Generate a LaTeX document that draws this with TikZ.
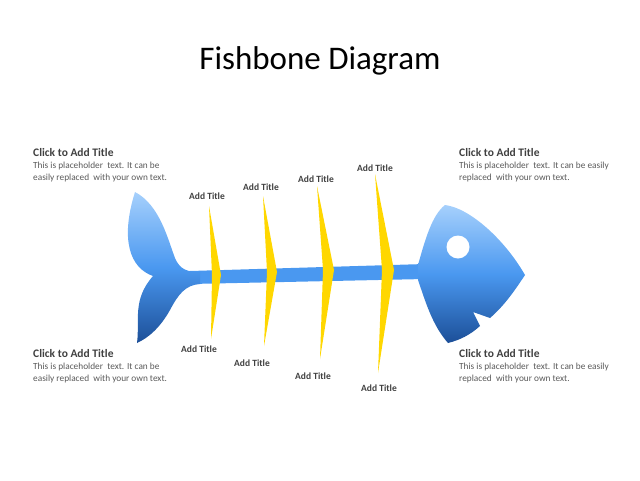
\documentclass[tikz,border=0pt]{standalone}
\usepackage{fontspec}
\setmainfont{Carlito}
\definecolor{ttl}{HTML}{404040}
\definecolor{bodyc}{HTML}{595959}
\definecolor{bone}{HTML}{FFD700}
\definecolor{fishlt}{HTML}{A6D0FC}
\definecolor{fishmd}{HTML}{4A98F0}
\definecolor{fishdk}{HTML}{1C4F98}
\begin{document}
\begin{tikzpicture}[x=1pt,y=-1pt,
  blk/.style={anchor=north west,align=left,inner sep=0pt,text=bodyc,font=\fontsize{9.3}{12}\selectfont},
  lbl/.style={font=\fontsize{9.5}{11}\selectfont\bfseries,text=ttl,inner sep=0pt},
  bonestyle/.style={fill=bone,draw=none}]
\useasboundingbox (0,0) rectangle (640,480);
\node[inner sep=0pt,font=\fontsize{33}{36}\selectfont] (title) at (320,61) {Fishbone Diagram};
% text blocks
\node[blk] (tl) at (33,148) {{\fontsize{11.5}{13}\selectfont\bfseries\color{ttl}Click to Add Title}\\This is placeholder\ \ text. It can be\\easily replaced\ \ with your own text.};
\node[blk] (tr) at (459,148) {{\fontsize{11.5}{13}\selectfont\bfseries\color{ttl}Click to Add Title}\\This is placeholder\ \ text. It can be easily\\replaced\ \ with your own text.};
\node[blk] (bl) at (33,349) {{\fontsize{11.5}{13}\selectfont\bfseries\color{ttl}Click to Add Title}\\This is placeholder\ \ text. It can be\\easily replaced\ \ with your own text.};
\node[blk] (br) at (459,349) {{\fontsize{11.5}{13}\selectfont\bfseries\color{ttl}Click to Add Title}\\This is placeholder\ \ text. It can be easily\\replaced\ \ with your own text.};
% spine
\fill[fishmd] (190,271) -- (425,264) -- (425,279) -- (190,284) -- cycle;
% tail
\shade[top color=fishlt,bottom color=fishdk,middle color=fishmd]
  (135,192) .. controls (160,205) and (168,240) .. (175,258)
  .. controls (180,270) and (188,272) .. (200,272)
  -- (200,284)
  .. controls (185,285) and (178,295) .. (170,310)
  .. controls (160,328) and (148,338) .. (137,343)
  .. controls (140,320) and (132,300) .. (153,276)
  .. controls (130,268) and (120,240) .. (135,192) -- cycle;
% head
\shade[top color=fishlt,bottom color=fishdk,middle color=fishmd]
  (418,265) .. controls (425,240) and (432,215) .. (445,205)
  .. controls (470,208) and (505,240) .. (525,275)
  .. controls (515,290) and (505,305) .. (490,318)
  -- (473,312) -- (480,326)
  .. controls (470,335) and (460,340) .. (448,343)
  .. controls (432,325) and (425,300) .. (418,280) -- cycle;
\fill[white] (458,247) circle[radius=11.5];
% bones
\fill[bonestyle] (209,206) -- (221,275) -- (211,339) -- (212,275) -- cycle;
\fill[bonestyle] (263,196) -- (277,272) -- (264,346) -- (267,272) -- cycle;
\fill[bonestyle] (317,186) -- (334,270) -- (320,359) -- (323,270) -- cycle;
\fill[bonestyle] (375,174) -- (394,270) -- (378,373) -- (382,270) -- cycle;
% labels
\node[lbl] (t1) at (207,196) {Add Title};
\node[lbl] (t2) at (261,187) {Add Title};
\node[lbl] (t3) at (316,179) {Add Title};
\node[lbl] (t4) at (375,168) {Add Title};
\node[lbl] (b1) at (199,349) {Add Title};
\node[lbl] (b2) at (252,363) {Add Title};
\node[lbl] (b3) at (313,376) {Add Title};
\node[lbl] (b4) at (379,388) {Add Title};
\end{tikzpicture}
\end{document}
